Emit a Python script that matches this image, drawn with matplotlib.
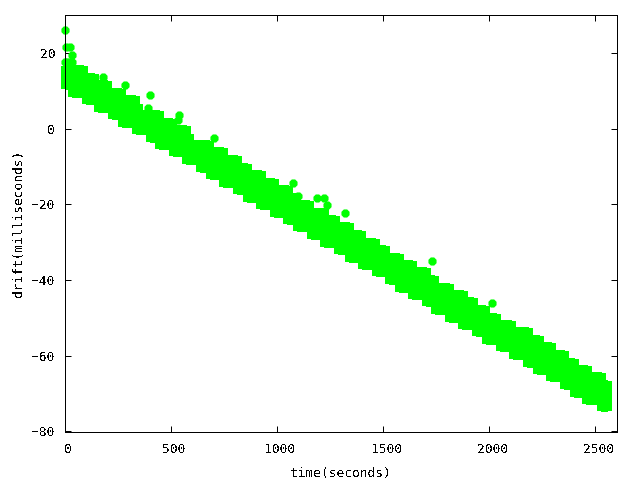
import matplotlib
matplotlib.use("Agg")
import matplotlib.pyplot as plt
from matplotlib.transforms import ScaledTranslation

plt.rcParams['font.family'] = 'DejaVu Sans Mono'
plt.rcParams['font.size'] = 9.3
plt.rcParams['text.antialiased'] = False

# quantised drift levels, with the time span each one covers
row_drift = [15.4, 13.4, 11.4, 9.5, 7.5, 5.5, 3.5, 1.6, -0.4, -2.4, -4.4, -6.3,
             -8.3, -10.3, -12.3, -14.3, -16.2, -18.2, -20.2, -22.2, -24.2, -26.1,
             -28.1, -30.1, -32.1, -34.1, -36.0, -38.0, -40.0, -42.0, -44.0, -45.9,
             -47.9, -49.9, -51.9, -53.8, -55.8, -57.8, -59.8, -61.8, -63.7, -65.7,
             -67.7, -69.7, -71.7, -73.6]
row_start = [0, 0, 0, 33, 99, 160, 222, 269, 339, 401, 443, 509,
             570, 636, 683, 745, 811, 858, 919, 985, 1046, 1094,
             1159, 1221, 1287, 1338, 1400, 1466, 1527, 1574, 1635, 1701,
             1744, 1810, 1871, 1937, 1984, 2050, 2111, 2177, 2224, 2286,
             2352, 2399, 2456, 2526]
row_end = [94, 146, 207, 273, 335, 353, 448, 509, 575, 589, 683, 749,
           815, 862, 928, 990, 1056, 1093, 1155, 1225, 1277, 1343,
           1400, 1466, 1513, 1579, 1640, 1706, 1744, 1815, 1880, 1928,
           1984, 2036, 2107, 2187, 2239, 2295, 2356, 2404, 2465, 2531,
           2559, 2559, 2559, 2559]

# isolated samples outside the main band
single_time = [0, 8, 25, 33, 0, 12, 24, 36, 183, 284, 405, 394, 541, 535, 704,
               1075, 1099, 1190, 1220, 1235, 1322, 1733, 2015]
single_drift = [26, 21.5, 21.5, 19.4, 17.7, 17.7, 17.7, 17.7, 13.7, 11.6, 9, 5.5, 3.6, 2.4, -2.4,
                -14.3, -17.9, -18.3, -18.3, -20.3, -22.3, -35.1, -46]

x_ticks = [0, 500, 1000, 1500, 2000, 2500]
y_ticks = [-80, -60, -40, -20, 0, 20]

fig = plt.figure(figsize=(6.4, 4.8), dpi=100)
ax = fig.add_axes([64.5 / 640, 1 - 431.5 / 480, 552 / 640, 416.5 / 480])

green = '#00ff00'
ax.hlines(row_drift, row_start, row_end, color=green, linewidth=5.9,
          antialiased=False, clip_on=False, zorder=3)
# the ends of each run are blocky, the lone samples show the point shape
ax.scatter(row_start + row_end, row_drift + row_drift, s=33, color=green, marker='s',
           linewidths=0, antialiased=False, clip_on=False, zorder=3)
ax.scatter(single_time, single_drift, s=40, color=green, marker='8', linewidths=0,
           antialiased=False, clip_on=False, zorder=3)

ax.set_xlim(0, 2600)
ax.set_ylim(-80, 30)
ax.set_xticks(x_ticks)
ax.set_yticks(y_ticks)
ax.tick_params(direction='in', length=4, width=0.72, top=True, right=True, pad=8)
ax.tick_params(axis='y', pad=6.8)
for side in ax.spines.values():
    side.set_linewidth(0.72)
    side.set_zorder(4)

# x labels sit a few pixels right of their ticks
shift = ScaledTranslation(3.5 / 100, 0, fig.dpi_scale_trans)
for label in ax.get_xticklabels():
    label.set_transform(label.get_transform() + shift)

ax.set_xlabel("time(seconds)", labelpad=8)
ax.set_ylabel("drift(milliseconds)", labelpad=5)

fig.savefig("out.png", dpi=100)
